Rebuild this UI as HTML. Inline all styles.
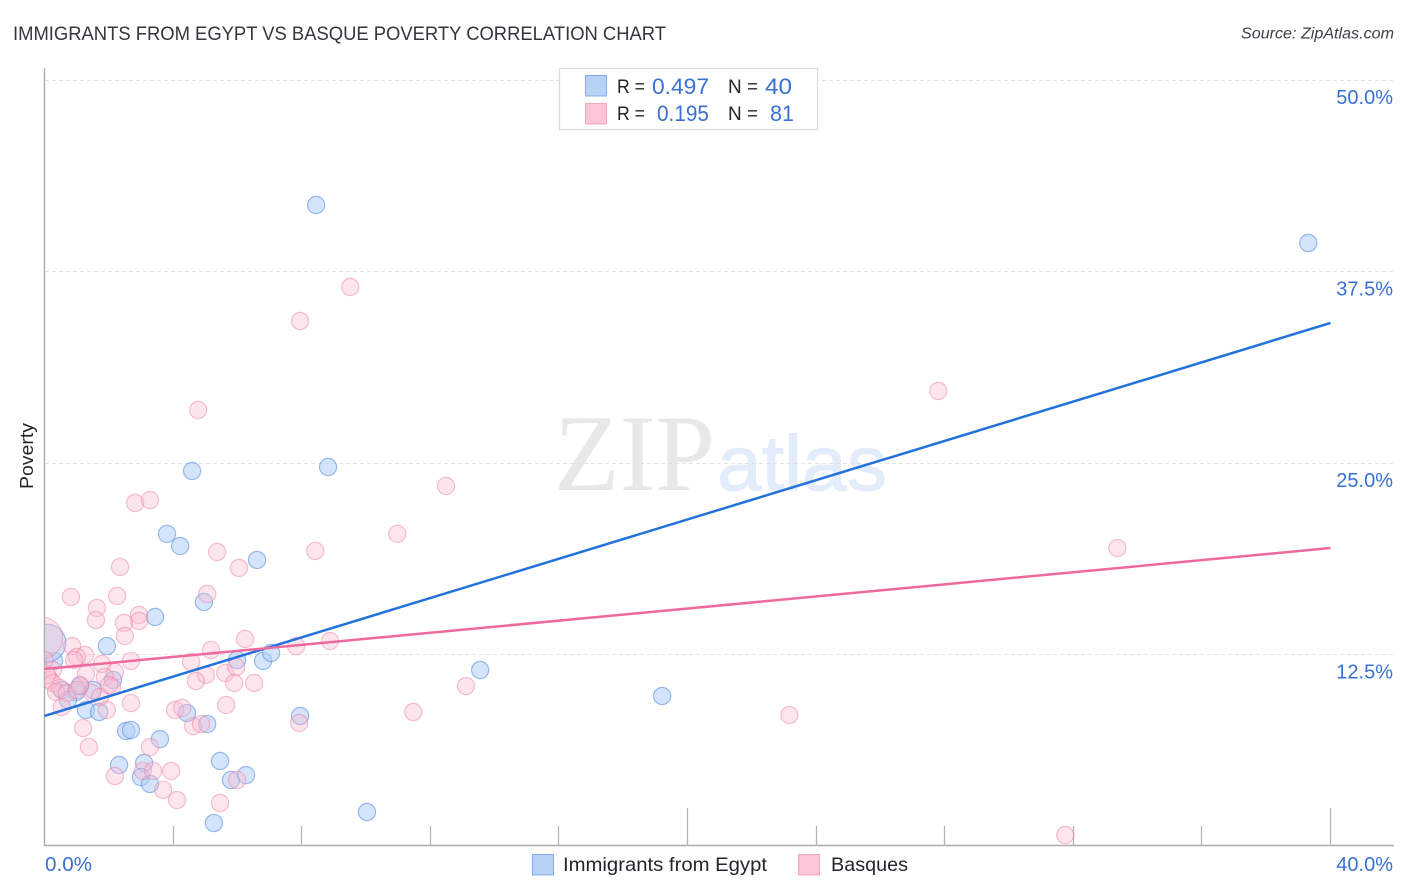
<!DOCTYPE html>
<html lang="en">
<head>
<meta charset="utf-8">
<title>Immigrants from Egypt vs Basque Poverty Correlation Chart</title>
<style>
html,body{margin:0;padding:0;background:#fff;}
body{width:1406px;height:892px;overflow:hidden;}
svg{display:block;font-family:"Liberation Sans",sans-serif;}
</style>
</head>
<body>
<svg id="chart" xmlns="http://www.w3.org/2000/svg" width="1406" height="892" viewBox="0 0 1406 892">
  <defs>
    <clipPath id="plot-clip"><rect x="45" y="60" width="1350" height="785"></rect></clipPath>
  </defs>
  <rect x="0" y="0" width="1406" height="892" fill="#ffffff"></rect>
  <text x="13" y="40" font-size="19.5" fill="#33373b" textLength="653" lengthAdjust="spacingAndGlyphs">IMMIGRANTS FROM EGYPT VS BASQUE POVERTY CORRELATION CHART</text>
  <text x="1241" y="38.5" font-size="15.5" font-style="italic" fill="#3a3f44" textLength="153" lengthAdjust="spacingAndGlyphs">Source: ZipAtlas.com</text>

  <g>
    <text x="554" y="490" font-family="'Liberation Serif',serif" font-size="109" fill="#e8e8e8" textLength="161" lengthAdjust="spacingAndGlyphs">ZIP</text>
    <text x="717" y="490" font-size="78" fill="#e2ecfa" stroke="#e2ecfa" stroke-width="1" textLength="170" lengthAdjust="spacingAndGlyphs">atlas</text>
  </g>

  <g id="grid-layer"></g>
  <g id="axis-layer"></g>
  <g id="point-layer" clip-path="url(#plot-clip)"></g>
  <g id="trend-layer"></g>

  <text transform="translate(33,456) rotate(-90)" text-anchor="middle" font-size="18" fill="#22262a" textLength="66" lengthAdjust="spacingAndGlyphs">Poverty</text>

  <g>
    <rect x="559.5" y="68.5" width="258" height="61" fill="#ffffff" stroke="#dcdcdc" stroke-width="1.2"></rect>
    <rect x="585.5" y="75.5" width="21" height="20.5" fill="#b8d2f6" stroke="#84ace6" stroke-width="1"></rect>
    <text x="617" y="93" font-size="19.5" fill="#22262a" textLength="28" lengthAdjust="spacingAndGlyphs">R =</text>
    <text x="652" y="94" font-size="22" fill="#3a70d2" textLength="57" lengthAdjust="spacingAndGlyphs">0.497</text>
    <text x="728" y="93" font-size="19.5" fill="#22262a" textLength="30" lengthAdjust="spacingAndGlyphs">N =</text>
    <text x="765" y="94" font-size="22" fill="#3a70d2" textLength="27" lengthAdjust="spacingAndGlyphs">40</text>
    <rect x="585.5" y="103.5" width="21" height="20.5" fill="#fdc6d8" stroke="#f4a6c0" stroke-width="1"></rect>
    <text x="617" y="120" font-size="19.5" fill="#22262a" textLength="28" lengthAdjust="spacingAndGlyphs">R =</text>
    <text x="657" y="121" font-size="22" fill="#3a70d2" textLength="52" lengthAdjust="spacingAndGlyphs">0.195</text>
    <text x="728" y="120" font-size="19.5" fill="#22262a" textLength="30" lengthAdjust="spacingAndGlyphs">N =</text>
    <text x="770" y="121" font-size="22" fill="#3a70d2" textLength="24" lengthAdjust="spacingAndGlyphs">81</text>
  </g>

  <g>
    <rect x="532.5" y="854.5" width="21" height="20.5" fill="#b8d2f6" stroke="#84ace6" stroke-width="1"></rect>
    <text x="563" y="871" font-size="19.5" fill="#22262a" textLength="204" lengthAdjust="spacingAndGlyphs">Immigrants from Egypt</text>
    <rect x="798.5" y="854.5" width="21" height="20.5" fill="#fdc6d8" stroke="#f4a6c0" stroke-width="1"></rect>
    <text x="831" y="871" font-size="19.5" fill="#22262a" textLength="77" lengthAdjust="spacingAndGlyphs">Basques</text>
  </g>
</svg>
<script>
const xTickValues = [0, 4, 8, 12, 16, 20, 24, 28, 32, 36, 40];
const xMajorTicks = [20, 40];
const xTickLabels = [[0, "0.0%"], [40, "40.0%"]];
const yTickValues = [12.5, 25, 37.5, 50];
const yTickLabels = ["12.5%", "25.0%", "37.5%", "50.0%"];

const egyptX = [8.45,39.31,4.59,8.82,3.81,4.22,6.61,4.96,3.44,1.94,0.30,0.08,5.99,6.80,7.05,13.55,19.21,2.13,1.51,0.98,0.54,0.73,1.29,1.70,4.43,5.06,7.95,2.54,2.69,3.59,2.32,3.10,3.00,3.28,5.46,5.80,6.27,5.27,10.03,1.10];
const egyptY = [41.84,39.36,24.48,24.74,20.37,19.58,18.67,15.93,14.95,13.05,12.08,13.25,12.14,12.08,12.60,11.49,9.79,10.84,10.18,10.05,10.18,9.53,8.88,8.75,8.68,7.96,8.49,7.51,7.57,6.98,5.29,5.42,4.50,4.05,5.55,4.31,4.63,1.50,2.22,10.44];
const egyptWeight = [1,1,1,1,1,1,1,1,1,1,1,4.8,1,1,1,1,1,1,1,1,1,1,1,1,1,1,1,1,1,1,1,1,1,1,1,1,1,1,1,1];

const basqueX = [9.51,7.95,4.78,27.80,12.49,2.82,3.28,10.97,5.37,8.42,6.05,2.35,33.37,5.06,2.26,0.82,1.63,1.60,2.94,2.94,2.47,2.50,6.24,5.18,4.56,7.83,8.88,2.69,0.86,1.26,1.01,0.92,1.79,2.19,1.29,5.02,4.71,5.62,5.96,5.90,6.52,0.26,0.17,0.26,1.88,2.10,1.48,1.73,0.48,0.36,0.70,0.54,1.10,2.69,1.94,5.65,4.06,4.28,1.20,1.38,3.28,4.62,4.87,7.92,3.06,3.38,3.94,2.19,5.99,3.69,4.12,5.46,13.11,11.47,23.17,31.75,-0.08,0.08,0.00,1.01,2.01];
const basqueY = [36.49,34.27,28.46,29.70,23.50,22.39,22.58,20.37,19.19,19.26,18.15,18.21,19.45,16.45,16.32,16.25,15.54,14.75,15.08,14.69,14.56,13.71,13.51,12.79,12.01,13.05,13.38,12.08,13.05,12.47,12.34,12.14,11.88,11.36,11.23,11.16,10.77,11.29,11.68,10.64,10.64,11.49,10.84,10.64,11.03,10.38,9.99,9.73,10.31,10.05,9.99,9.07,10.51,9.33,8.88,9.20,8.88,9.01,7.70,6.46,6.46,7.83,7.96,8.03,4.90,4.90,4.90,4.57,4.31,3.66,3.00,2.81,10.44,8.75,8.55,0.72,13.58,11.16,12.14,10.18,10.51];
const basqueWeight = [1,1,1,1,1,1,1,1,1,1,1,1,1,1,1,1,1,1,1,1,1,1,1,1,1,1,1,1,1,1,1,1,1,1,1,1,1,1,1,1,1,1,1,1,1,1,1,1,1,1,1,1,1,1,1,1,1,1,1,1,1,1,1,1,1,1,1,1,1,1,1,1,1,1,1,1,5.8,1,1,1,1];

const egyptTrendX = [0, 40];
const egyptTrendY = [8.49, 34.14];
const basqueTrendX = [0, 40];
const basqueTrendY = [11.55, 19.45];

const NS = "http://www.w3.org/2000/svg";
function xScale(v) { return 44.5 + (v / 40) * 1286; }
function yScale(v) { return 846 - (v / 50) * 766; }

const gridLayer = document.getElementById("grid-layer");
const axisLayer = document.getElementById("axis-layer");
const pointLayer = document.getElementById("point-layer");
const trendLayer = document.getElementById("trend-layer");

function makeLine(x1, y1, x2, y2, stroke, width) {
  const line = document.createElementNS(NS, "line");
  line.setAttribute("x1", x1);
  line.setAttribute("y1", y1);
  line.setAttribute("x2", x2);
  line.setAttribute("y2", y2);
  line.setAttribute("stroke", stroke);
  line.setAttribute("stroke-width", width);
  return line;
}
function makeText(x, y, str, anchor, size, fill) {
  const t = document.createElementNS(NS, "text");
  t.setAttribute("x", x);
  t.setAttribute("y", y);
  t.setAttribute("text-anchor", anchor);
  t.setAttribute("font-size", size);
  t.setAttribute("fill", fill);
  t.textContent = str;
  return t;
}

yTickValues.forEach(function (v, i) {
  const y = Math.floor(yScale(v)) + 0.5;
  const grid = makeLine(45, y, 1394, y, "#e2e2e2", 1);
  grid.setAttribute("stroke-dasharray", "4 3");
  
  
  gridLayer.appendChild(grid);
  const label = makeText(1393, yScale(v) + 24, yTickLabels[i], "end", 20, "#3a70d2");
  
  
  axisLayer.appendChild(label);
});

const yAxis = makeLine(44.5, 68, 44.5, 846, "#ababab", 1.4);


axisLayer.appendChild(yAxis);
const xAxis = makeLine(44, 845.5, 1394, 845.5, "#ababab", 1.4);


axisLayer.appendChild(xAxis);

xTickValues.forEach(function (v) {
  if (v === 0) return;
  const major = xMajorTicks.indexOf(v) !== -1;
  const x = Math.floor(xScale(v)) + 0.5;
  const tick = makeLine(x, major ? 808 : 826, x, 846, "#b5b5b5", 1.3);
  
  
  axisLayer.appendChild(tick);
});

xTickLabels.forEach(function (pair) {
  const first = pair[0] === 0;
  const label = makeText(first ? xScale(pair[0]) + 0.5 : 1393, 871, pair[1], first ? "start" : "end", 20, "#3a70d2");
  if (first) {
    label.setAttribute("textLength", 47);
    label.setAttribute("lengthAdjust", "spacingAndGlyphs");
  }
  
  
  axisLayer.appendChild(label);
});

function drawSeries(xs, ys, weights, fill, stroke, pointName) {
  xs.forEach(function (xv, i) {
    const c = document.createElementNS(NS, "circle");
    c.setAttribute("cx", xScale(xv));
    c.setAttribute("cy", yScale(ys[i]));
    c.setAttribute("r", 8.6 * Math.sqrt(weights[i]));
    c.setAttribute("fill", fill);
    c.setAttribute("stroke", stroke);
    c.setAttribute("stroke-width", 1.2);
    
    
    pointLayer.appendChild(c);
  });
}
drawSeries(egyptX, egyptY, egyptWeight, "rgba(176,207,247,0.55)", "rgba(66,125,220,0.5)", "point-egypt");
drawSeries(basqueX, basqueY, basqueWeight, "rgba(250,186,208,0.38)", "rgba(236,120,160,0.45)", "point-basques");

function drawTrend(xs, ys, stroke, lineName) {
  const l = makeLine(xScale(xs[0]), yScale(ys[0]), xScale(xs[1]), yScale(ys[1]), stroke, 2.5);
  
  
  trendLayer.appendChild(l);
}
drawTrend(egyptTrendX, egyptTrendY, "#2272dc", "trend-line-egypt");
drawTrend(basqueTrendX, basqueTrendY, "#ee6a9c", "trend-line-basques");
</script>
</body>
</html>
